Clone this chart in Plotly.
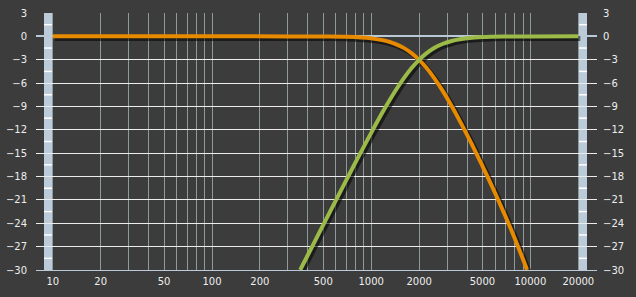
import plotly.graph_objects as go

# ---- data ----
lp_freq = [10, 100, 300, 500, 700, 1000, 1200, 1400, 1600, 1800, 2000, 2200, 2500,
           2800, 3200, 3600, 4000, 4500, 5000, 5600, 6300, 7100, 8000, 9000, 9530]
lp_db = [0.0, 0.0, -0.002, -0.017, -0.063, -0.258, -0.521, -0.923, -1.479, -2.182,
         -3.010, -3.932, -5.415, -6.941, -8.944, -10.852, -12.645, -14.728, -16.661,
         -18.784, -21.073, -23.487, -26.011, -28.656, -30.0]

hp_freq = [358, 400, 450, 500, 600, 700, 800, 1000, 1200, 1400, 1600, 1800, 2000,
           2200, 2500, 2800, 3200, 3600, 4000, 5000, 7000, 10000, 20000]
hp_db = [-30.0, -28.078, -26.036, -24.210, -21.056, -18.404, -16.124, -12.388, -9.470,
         -7.179, -5.397, -4.035, -3.010, -2.251, -1.471, -0.981, -0.593, -0.372,
         -0.243, -0.095, -0.021, -0.003, 0.0]

x_grid_vals = [10, 20, 30, 40, 50, 60, 70, 80, 90,
               100, 200, 300, 400, 500, 600, 700, 800, 900,
               1000, 2000, 3000, 4000, 5000, 6000, 7000, 8000, 9000,
               10000, 20000]
x_labels = [10, 20, 50, 100, 200, 500, 1000, 2000, 5000, 10000, 20000]
y_ticks = [-30, -27, -24, -21, -18, -15, -12, -9, -6, -3, 0, 3]

# ---- styling ----
BG = "#3c3c3c"
ORANGE = "#e88a00"
GREEN = "#9bba48"
STRIP = "#bccbda"
HGRID = "#ececec"
VGRID = "#8d9b9b"
BLUELINE = "#b9c9d8"
FONT = dict(family="DejaVu Sans, Verdana, sans-serif", size=10, color="#eeeeee")

XR = [0.8945, 4.4183]
YR = [y_ticks[0], y_ticks[-1]]
SHX = 0.0126   # ~2px in log decades
SHY = 0.26     # ~2px in dB

fig = go.Figure()

# shadows (primary, shifted axes)
for fx, fy in ((lp_freq, lp_db), (hp_freq, hp_db)):
    fig.add_trace(go.Scatter(x=fx, y=fy, mode="lines", xaxis="x", yaxis="y",
                             line=dict(color="rgba(0,0,0,0.55)", width=5, shape="spline"),
                             hoverinfo="skip", showlegend=False))

# main curves (true axes)
fig.add_trace(go.Scatter(x=lp_freq, y=lp_db, mode="lines", xaxis="x2", yaxis="y2",
                         line=dict(color=ORANGE, width=4, shape="spline"), showlegend=False))
fig.add_trace(go.Scatter(x=hp_freq, y=hp_db, mode="lines", xaxis="x2", yaxis="y2",
                         line=dict(color=GREEN, width=4, shape="spline"), showlegend=False))
# dummy for right-hand labels
fig.add_trace(go.Scatter(x=[x_labels[0]], y=[y_ticks[0]], mode="markers", xaxis="x2", yaxis="y3",
                         marker=dict(opacity=0), hoverinfo="skip", showlegend=False))

ticktext = [str(v) if v in x_labels else "" for v in x_grid_vals]

# shapes: side strips with half-step marks
shapes = []
strips = [(8.0 / 561, 16.6 / 561), (543.0 / 561, 551.0 / 561)]
for x0, x1 in strips:
    shapes.append(dict(type="rect", xref="paper", yref="y2", x0=x0, x1=x1,
                       y0=YR[0], y1=YR[1], fillcolor=STRIP, line=dict(width=0), layer="below"))
    for v in y_ticks[:-1]:
        shapes.append(dict(type="line", xref="paper", yref="y2", x0=x0, x1=x1,
                           y0=v + 1.5, y1=v + 1.5, line=dict(color="#ffffff", width=1.5),
                           layer="below"))

fig.update_layout(
    width=636, height=297,
    margin=dict(l=36, r=39, t=13, b=27, autoexpand=False),
    paper_bgcolor=BG, plot_bgcolor=BG,
    font=FONT,
    showlegend=False,
    shapes=shapes,
    xaxis=dict(type="log", range=[XR[0] - SHX, XR[1] - SHX], visible=False,
               fixedrange=True, automargin=False),
    yaxis=dict(range=[YR[0] + SHY, YR[1] + SHY], visible=False, fixedrange=True,
               automargin=False),
    xaxis2=dict(type="log", range=XR, overlaying="x", side="bottom",
                tickvals=x_grid_vals, ticktext=ticktext, showgrid=True,
                gridcolor=VGRID, gridwidth=1, zeroline=False,
                showline=True, linecolor=BLUELINE, linewidth=1,
                ticks="", tickfont=FONT, ticklabelstandoff=2, automargin=False),
    yaxis2=dict(range=YR, overlaying="y", side="left", tickvals=y_ticks,
                showgrid=True, gridcolor=HGRID, gridwidth=1,
                zeroline=True, zerolinecolor=BLUELINE, zerolinewidth=1.5,
                ticks="", tickfont=FONT, ticklabelstandoff=8, automargin=False),
    yaxis3=dict(range=YR, overlaying="y", side="right", tickvals=y_ticks,
                showgrid=False, zeroline=False, ticks="", tickfont=FONT,
                ticklabelstandoff=5, automargin=False),
)

fig.write_html("out.html")
